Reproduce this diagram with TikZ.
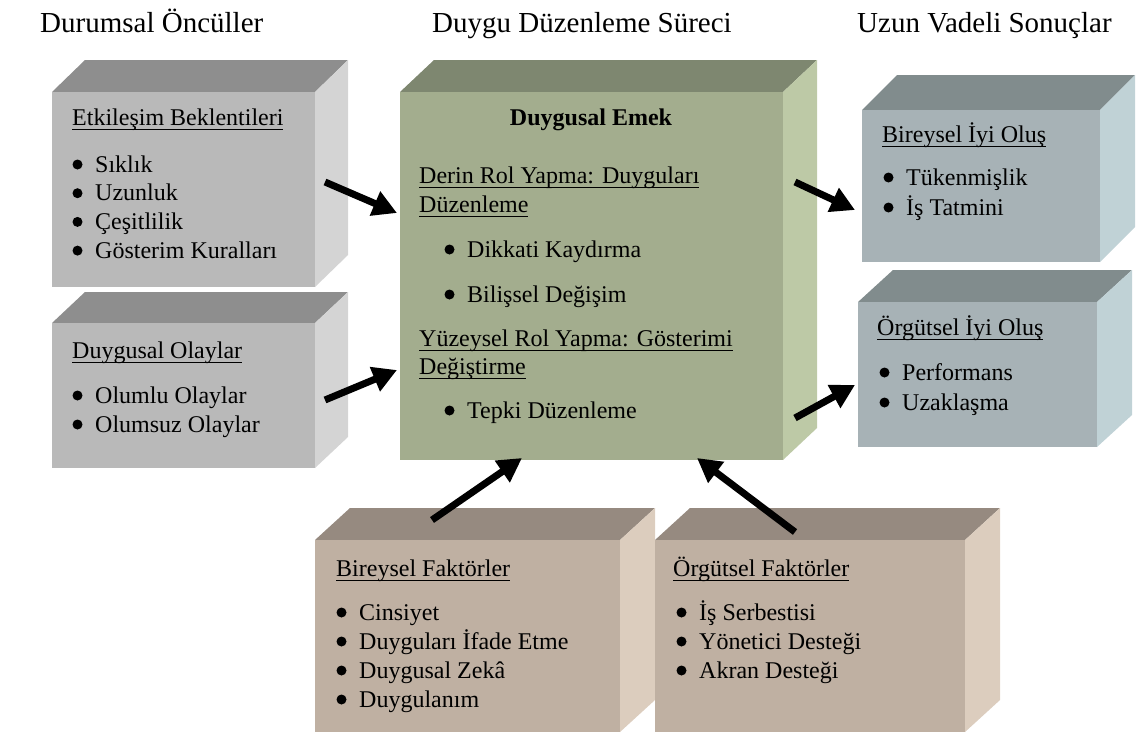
\documentclass[tikz,border=0pt]{standalone}
\usepackage{fontspec}
\setmainfont{Liberation Serif}
\usetikzlibrary{arrows.meta}

\definecolor{stoneF}{HTML}{B9B9B9}
\definecolor{stoneT}{HTML}{8E8E8E}
\definecolor{stoneS}{HTML}{D4D4D4}
\definecolor{sageF}{HTML}{A3AD8E}
\definecolor{sageT}{HTML}{7E8770}
\definecolor{sageS}{HTML}{BDC9A6}
\definecolor{slateF}{HTML}{A7B2B6}
\definecolor{slateT}{HTML}{818C8D}
\definecolor{slateS}{HTML}{C0D2D6}
\definecolor{taupeF}{HTML}{BFB0A2}
\definecolor{taupeT}{HTML}{968A80}
\definecolor{taupeS}{HTML}{DCCDBE}

% underline at a fixed depth below the baseline
\newcommand{\uln}[1]{\setbox0\hbox{#1}%
  \rlap{\vrule height -3.6pt depth 5pt width \wd0}\box0}

% palette, front top-left (x,y), front bottom-right (x,y), depth dx, dy
\newcommand{\cuboid}[7]{%
  \fill[#1T] (#2,#3) -- (#2+#6,#3-#7) -- (#4+#6,#3-#7) -- (#4,#3) -- cycle;
  \fill[#1S] (#4,#3) -- (#4+#6,#3-#7) -- (#4+#6,#5-#7) -- (#4,#5) -- cycle;
  \fill[#1F] (#2,#3) rectangle (#4,#5);
}

\tikzset{
  hdr/.style = {anchor = base west, inner sep = 0pt,
                font = \fontsize{29}{34}\selectfont},
  txt/.style = {anchor = base west, inner sep = 0pt,
                font = \fontsize{24}{29}\selectfont},
  item/.style = {txt, execute at begin node = \hspace*{24pt},
                 append after command = {\pgfextra{
                   \fill ([xshift = 6.5pt, yshift = 7.5pt]\tikzlastnode.base west)
                     circle (5pt);}}},
  flow/.style = {line width = 7pt, -{Triangle[length = 24pt, width = 25pt]}}
}

\begin{document}
\begin{tikzpicture}[x = 1pt, y = -1pt]
      \useasboundingbox (0,0) rectangle (1137,736);

      % column headers
      \node [hdr] (hdrLeft) at (40,32) {Durumsal Öncüller};
      \node [hdr] (hdrMid) at (432,32) {Duygu Düzenleme Süreci};
      \node [hdr] (hdrRight) at (857,32) {Uzun Vadeli Sonuçlar};

      % boxes
      \cuboid{stone}{52}{92}{315}{287}{33}{32}
      \cuboid{stone}{52}{323}{315}{468}{33}{31}
      \cuboid{sage}{400}{92}{783}{460}{34}{32}
      \cuboid{slate}{862}{110}{1100}{262}{35}{35}
      \cuboid{slate}{858}{302}{1097}{447}{35}{32}
      \cuboid{taupe}{315}{540}{620}{732}{35}{32}
      \cuboid{taupe}{655}{540}{965}{732}{35}{32}

      % etkilesim beklentileri
      \node [txt] (etk) at (72,125) {\uln{Etkileşim Beklentileri}};
      \foreach \t [count = \i] in {Sıklık, Uzunluk, Çeşitlilik, Gösterim Kuralları}
        \node [item] (etk\i) at (71,{172 + 28.7*(\i-1)}) {\t};

      % duygusal olaylar
      \node [txt] (olay) at (72,358) {\uln{Duygusal Olaylar}};
      \foreach \t [count = \i] in {Olumlu Olaylar, Olumsuz Olaylar}
        \node [item] (olay\i) at (71,{403 + 29*(\i-1)}) {\t};

      % duygusal emek
      \node [txt, anchor = base, font = \fontsize{24}{29}\selectfont\bfseries]
        (emek) at (591,125) {Duygusal Emek};
      \node [txt] (derin) at (419,183) {\uln{Derin Rol Yapma: Duyguları}};
      \node [txt] (derin2) at (419,212) {\uln{Düzenleme}};
      \node [item] (derin3) at (443,257) {Dikkati Kaydırma};
      \node [item] (derin4) at (443,302) {Bilişsel Değişim};
      \node [txt] (yuzey) at (419,346) {\uln{Yüzeysel Rol Yapma: Gösterimi}};
      \node [txt] (yuzey2) at (419,374) {\uln{Değiştirme}};
      \node [item] (yuzey3) at (443,418) {Tepki Düzenleme};

      % sonuclar
      \node [txt] (birey) at (882,142) {\uln{Bireysel İyi Oluş}};
      \foreach \t [count = \i] in {Tükenmişlik, İş Tatmini}
        \node [item] (birey\i) at (882,{185 + 30*(\i-1)}) {\t};
      \node [txt] (orgut) at (877,335) {\uln{Örgütsel İyi Oluş}};
      \foreach \t [count = \i] in {Performans, Uzaklaşma}
        \node [item] (orgut\i) at (878,{380 + 30*(\i-1)}) {\t};

      % faktorler
      \node [txt] (bfak) at (336,576) {\uln{Bireysel Faktörler}};
      \foreach \t [count = \i] in {Cinsiyet, Duyguları İfade Etme, Duygusal Zekâ, Duygulanım}
        \node [item] (bfak\i) at (335,{620 + 29*(\i-1)}) {\t};
      \node [txt] (ofak) at (673,576) {\uln{Örgütsel Faktörler}};
      \foreach \t [count = \i] in {İş Serbestisi, Yönetici Desteği, Akran Desteği}
        \node [item] (ofak\i) at (675,{620 + 29*(\i-1)}) {\t};

      % arrow ends
      \coordinate (etkOut) at (325,182);
      \coordinate (emekInA) at (397,213);
      \coordinate (olayOut) at (325,400);
      \coordinate (emekInB) at (397,370);
      \coordinate (emekOutA) at (795,182);
      \coordinate (bireyIn) at (855,210);
      \coordinate (emekOutB) at (795,418);
      \coordinate (orgutIn) at (855,385);
      \coordinate (bfakOut) at (432,520);
      \coordinate (emekInC) at (522,458);
      \coordinate (ofakOut) at (795,532);
      \coordinate (emekInD) at (697,458);

      \draw [flow] (etkOut) -- (emekInA);
      \draw [flow] (olayOut) -- (emekInB);
      \draw [flow] (emekOutA) -- (bireyIn);
      \draw [flow] (emekOutB) -- (orgutIn);
      \draw [flow] (bfakOut) -- (emekInC);
      \draw [flow] (ofakOut) -- (emekInD);
    \end{tikzpicture}
\end{document}
